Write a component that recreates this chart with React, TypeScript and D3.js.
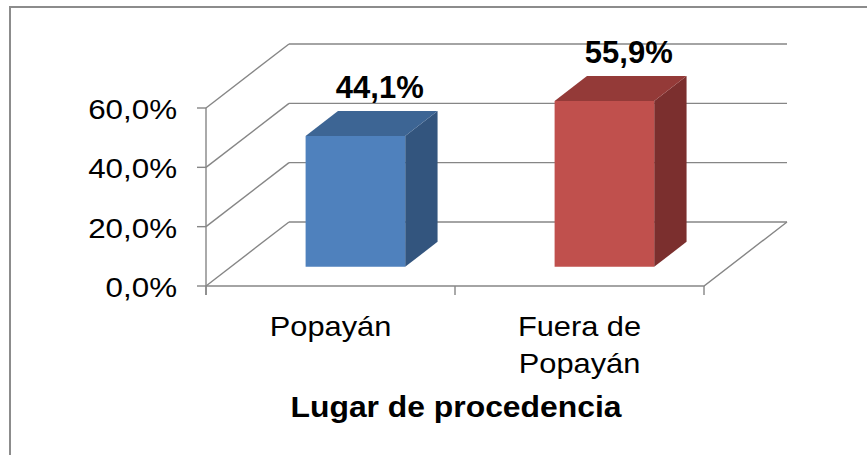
import * as d3 from "d3";

const categories = ["Popayán", "Fuera de Popayán"];
const values = [44.1, 55.9];
const yTicks = [0, 20, 40, 60];
const axisTitle = "Lugar de procedencia";

const frontColors = ["#4F81BD", "#C0504D"];
const topColors = ["#3D6594", "#943A38"];
const sideColors = ["#33557E", "#7B2F2E"];

const W = 867;
const H = 455;
// depth offset of the 3D box (back plane relative to front plane)
const DX = 83;
const DY = -64;
const grid = "#868686";
const font = "'Liberation Sans', Arial, sans-serif";

const fmt = (v: number) => v.toFixed(1).replace(".", ",") + "%";

export default function App() {
  const x = d3.scaleBand<string>().domain(categories).range([206, 704]).padding(0);
  const y = d3.scaleLinear().domain([0, 60]).range([286, 108]);

  const P = (px: number, v: number, z: number): [number, number] => [px + z * DX, y(v) + z * DY];
  const pts = (arr: [number, number][]) => arr.map((p) => p.join(",")).join(" ");

  const x0 = x.range()[0];
  const x1 = x.range()[1];
  const bw = x.bandwidth();
  const z0 = 0.3;
  const z1 = 0.69;

  return (
    <svg width={W} height={H} style={{ position: "absolute", left: 0, top: 0, background: "#fff" }}>
      <rect x={10} y={7} width={1000} height={1000} fill="#fff" stroke="#8c8c8c" strokeWidth={2} />

      {/* back wall gridlines and left wall diagonals */}
      {yTicks.map((t) => {
        const [bx, by] = P(x0, t, 1);
        const [ex] = P(x1, t, 1);
        return (
          <g key={"g" + t} stroke={grid} strokeWidth={1.4} fill="none">
            <line x1={x0} y1={y(t)} x2={bx} y2={by} />
            <line x1={bx} y1={by} x2={ex} y2={by} />
          </g>
        );
      })}

      {/* floor */}
      <polyline
        points={pts([P(x0, 0, 0), P(x1, 0, 0), P(x1, 0, 1)])}
        fill="none"
        stroke={grid}
        strokeWidth={1.4}
      />
      <line x1={x0} y1={y(60)} x2={x0} y2={y(0) + 9} stroke={grid} strokeWidth={1.4} />
      {yTicks.map((t) => (
        <line key={"yt" + t} x1={x0 - 9} y1={y(t)} x2={x0} y2={y(t)} stroke={grid} strokeWidth={1.4} />
      ))}
      {[...categories.map((c) => x(c) as number), x1].map((px, i) => (
        <line key={"xt" + i} x1={px} y1={y(0)} x2={px} y2={y(0) + 9} stroke={grid} strokeWidth={1.4} />
      ))}

      {/* bars */}
      {categories.map((c, i) => {
        const l = (x(c) as number) + bw * 0.3;
        const r = (x(c) as number) + bw * 0.7;
        const v = values[i];
        const front = pts([P(l, 0, z0), P(r, 0, z0), P(r, v, z0), P(l, v, z0)]);
        const top = pts([P(l, v, z0), P(r, v, z0), P(r, v, z1), P(l, v, z1)]);
        const side = pts([P(r, 0, z0), P(r, 0, z1), P(r, v, z1), P(r, v, z0)]);
        const [lx, ly] = P((l + r) / 2, v, z1);
        return (
          <g key={c}>
            <polygon points={side} fill={sideColors[i]} />
            <polygon points={top} fill={topColors[i]} />
            <polygon points={front} fill={frontColors[i]} />
            <text
              x={lx - 8}
              y={ly - 13}
              textAnchor="middle"
              fontFamily={font}
              fontWeight="bold"
              fontSize={31}
              fill="#000"
            >
              {fmt(v)}
            </text>
          </g>
        );
      })}

      {/* y axis labels */}
      {yTicks.map((t) => (
        <text
          key={"yl" + t}
          transform={`translate(177,${y(t) + 11}) scale(1.1,1)`}
          textAnchor="end"
          fontFamily={font}
          fontSize={28.5}
          fill="#000"
        >
          {fmt(t)}
        </text>
      ))}

      {/* category labels */}
      {categories.map((c) => {
        const cx = (x(c) as number) + bw / 2;
        const words = c.split(" ");
        const lines = words.length > 2 ? [words.slice(0, 2).join(" "), words.slice(2).join(" ")] : [c];
        return lines.map((ln, j) => (
          <text
            key={c + j}
            transform={`translate(${cx},${336 + j * 37}) scale(1.08,1)`}
            textAnchor="middle"
            fontFamily={font}
            fontSize={28.5}
            fill="#000"
          >
            {ln}
          </text>
        ));
      })}

      <text
        transform={`translate(${(x0 + x1) / 2 + 1},417) scale(1.08,1)`}
        textAnchor="middle"
        fontFamily={font}
        fontWeight="bold"
        fontSize={29.5}
        fill="#000"
      >
        {axisTitle}
      </text>
    </svg>
  );
}
